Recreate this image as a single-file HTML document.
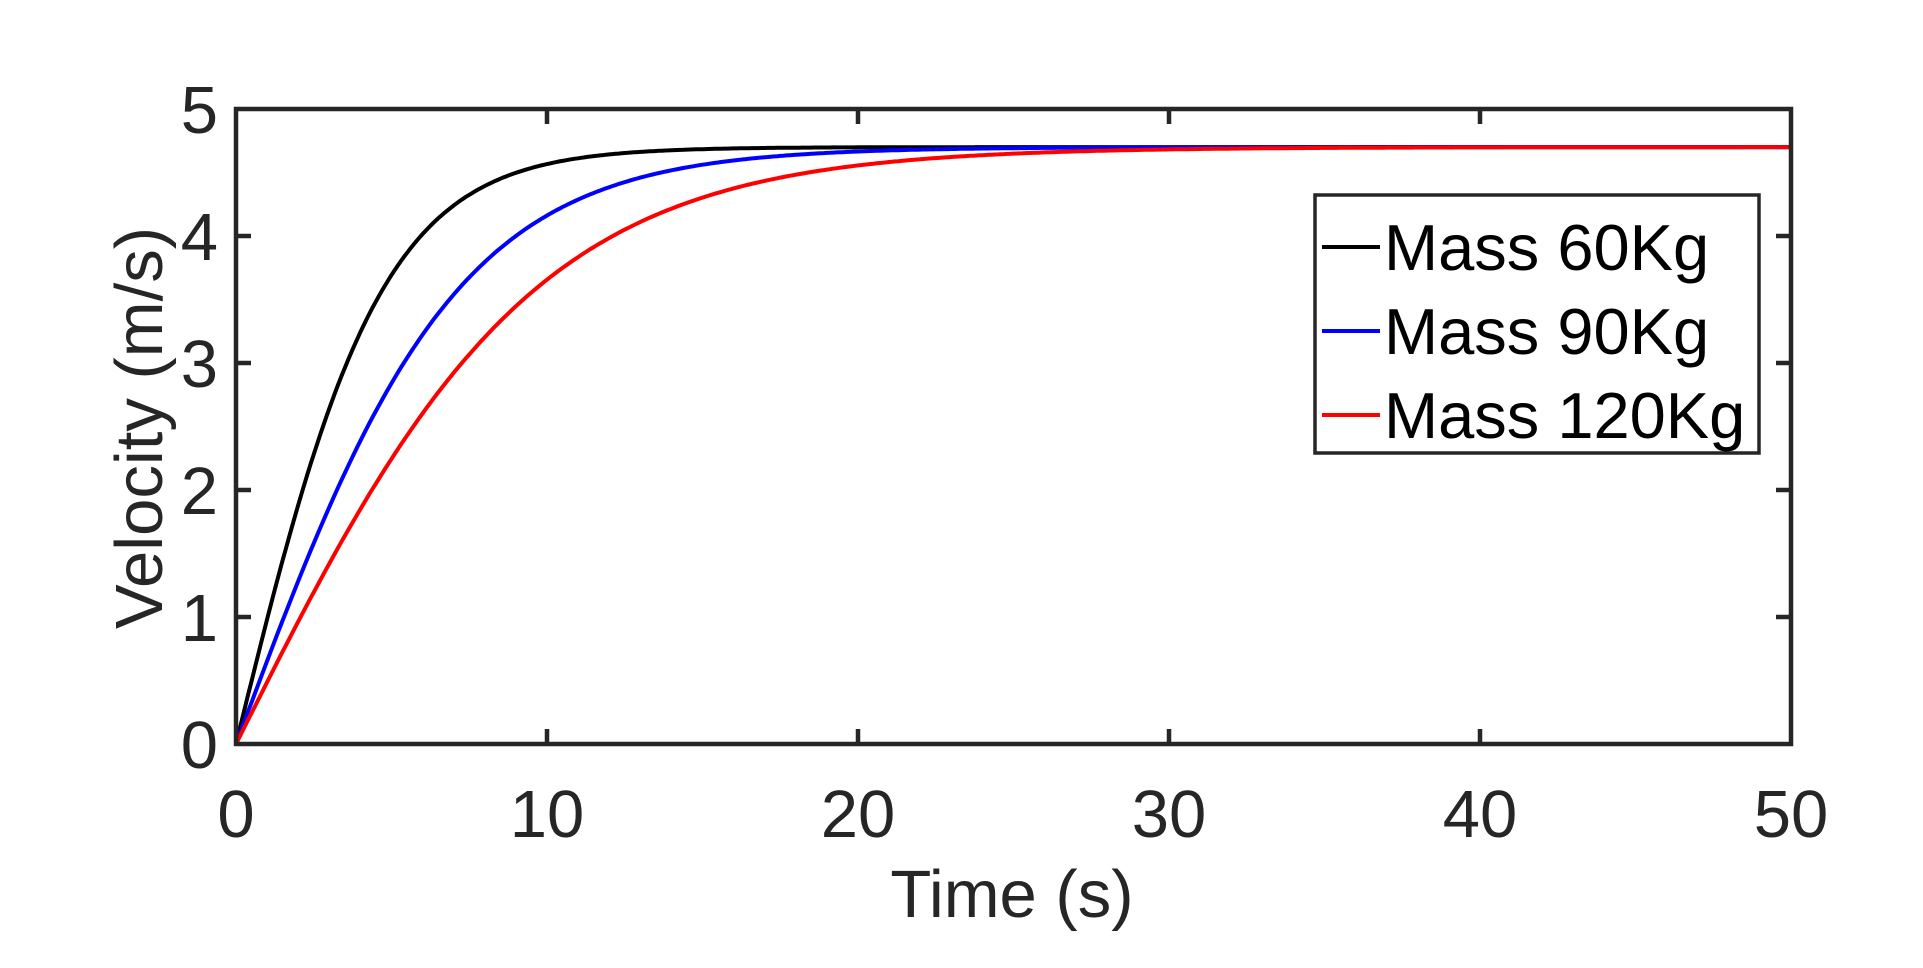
<!DOCTYPE html>
<html><head><meta charset="utf-8"><style>
html,body{margin:0;padding:0;background:#fff;}
svg{display:block;}
text{font-family:"Liberation Sans",Arial,sans-serif;fill:#262626;}
</style></head><body>
<svg id="s" width="1923" height="968" viewBox="0 0 1923 968">
<rect width="1923" height="968" fill="#fff"/>
<g id="curves" fill="none" stroke-width="4"></g>
<rect x="236" y="109" width="1555" height="635" fill="none" stroke="#262626" stroke-width="4.5"/>
<g id="ticks" stroke="#262626" stroke-width="4.5"></g>
<g font-size="67" text-anchor="middle">
<text x="236" y="837">0</text><text x="547" y="837">10</text><text x="858" y="837">20</text>
<text x="1169" y="837">30</text><text x="1480" y="837">40</text><text x="1791" y="837">50</text>
</g>
<g font-size="67" text-anchor="end">
<text x="218" y="768">0</text><text x="218" y="641">1</text><text x="218" y="514">2</text>
<text x="218" y="387">3</text><text x="218" y="260">4</text><text x="218" y="133">5</text>
</g>
<text x="1012" y="917" font-size="67" text-anchor="middle">Time (s)</text>
<text transform="translate(162,428) rotate(-90)" font-size="67" text-anchor="middle">Velocity (m/s)</text>
<rect x="1315" y="195" width="444" height="258" fill="#fff" stroke="#262626" stroke-width="3.5"/>
<line x1="1322" y1="247" x2="1380" y2="247" stroke="#000" stroke-width="4"/>
<line x1="1322" y1="331" x2="1380" y2="331" stroke="#0000ff" stroke-width="4"/>
<line x1="1322" y1="415" x2="1380" y2="415" stroke="#ff0000" stroke-width="4"/>
<g font-size="65">
<text x="1384" y="270" style="fill:#000">Mass 60Kg</text>
<text x="1384" y="354" style="fill:#000">Mass 90Kg</text>
<text x="1384" y="438" style="fill:#000">Mass 120Kg</text>
</g>
</svg>
<script>
var g=document.getElementById('curves'),t=document.getElementById('ticks');
function X(v){return 236+v*31.1} function Y(v){return 744-v*127}
[[0.212,'#000000'],[0.14,'#0000ff'],[0.104,'#ff0000']].forEach(function(c){
 var d='';for(var i=0;i<=500;i++){var tt=i*0.1;var v=4.7*Math.tanh(c[0]*tt);d+=(i?'L':'M')+X(tt).toFixed(1)+','+Y(v).toFixed(1);}
 var p=document.createElementNS('http://www.w3.org/2000/svg','path');p.setAttribute('d',d);p.setAttribute('stroke',c[1]);g.appendChild(p);});
var s='';
for(var i=1;i<5;i++){var x=X(i*10);s+='M'+x+',744L'+x+',729M'+x+',109L'+x+',124';}
for(var j=1;j<5;j++){var y=Y(j);s+='M236,'+y+'L251,'+y+'M1791,'+y+'L1776,'+y;}
var p=document.createElementNS('http://www.w3.org/2000/svg','path');p.setAttribute('d',s);t.appendChild(p);
</script>
</body></html>
